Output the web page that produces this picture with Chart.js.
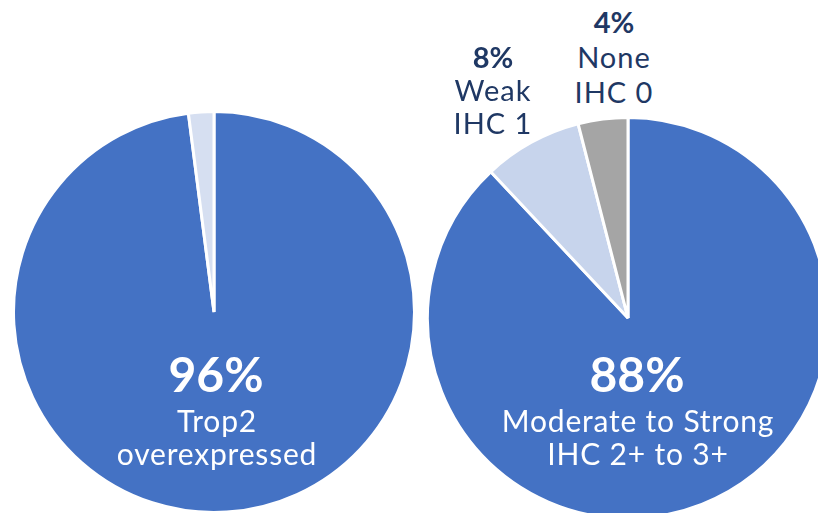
<!DOCTYPE html>
<html>
<head>
<meta charset="utf-8">
<script src="https://cdn.jsdelivr.net/npm/chart.js@4.4.1/dist/chart.umd.min.js"></script>
<style>
  html, body { margin: 0; padding: 0; background: #fff; width: 818px; height: 513px; overflow: hidden; }
  .box { position: absolute; }
  .lbl { position: absolute; text-align: center; font-family: Lato, "Open Sans", sans-serif; white-space: nowrap; transform: translateX(-50%); }
  .pct { font-weight: 700; letter-spacing: 0; }
  .in { color: #ffffff; }
  .out { color: #1F3864; letter-spacing: 1px; }
</style>
</head>
<body>
<div class="box" style="left:12px; top:110px; width:404px; height:404px;"><canvas id="pieLeft" width="404" height="404"></canvas></div>
<div class="box" style="left:426px; top:116px; width:404px; height:404px;"><canvas id="pieRight" width="404" height="404"></canvas></div>

<div class="lbl in pct" style="left:216px; top:349px; font-size:48px; line-height:50px;">96%</div>
<div class="lbl in" style="left:217px; top:404px; font-size:30px; line-height:33px; letter-spacing:0.8px;">Trop2<br>overexpressed</div>

<div class="lbl in pct" style="left:637px; top:349px; font-size:48px; line-height:50px;">88%</div>
<div class="lbl in" style="left:638px; top:404px; font-size:30px; line-height:33px; letter-spacing:0.8px;">Moderate to Strong<br>IHC 2+ to 3+</div>

<div class="lbl out" style="left:493px; top:40px; font-size:29px; line-height:33px;"><span class="pct">8%</span><br>Weak<br>IHC 1</div>
<div class="lbl out" style="left:614px; top:4px; font-size:29px; line-height:35px;"><span class="pct">4%</span><br>None<br>IHC 0</div>

<script>
// Left pie: Trop2 expression
const leftLabels = ['Trop2 overexpressed', 'Other'];
const leftValues = [96, 2];
const leftColors = ['#4472C4', '#D6DFF1'];

// Right pie: IHC intensity
const rightLabels = ['Moderate to Strong IHC 2+ to 3+', 'Weak IHC 1', 'None IHC 0'];
const rightValues = [88, 8, 4];
const rightColors = ['#4472C4', '#C7D4EC', '#A5A5A5'];

function crearPie(id, etiquetas, valores, colores) {
    const ctx = document.getElementById(id).getContext('2d');
    return new Chart(ctx, {
        type: 'pie',
        data: {
            labels: etiquetas,
            datasets: [{
                data: valores,
                backgroundColor: colores,
                borderColor: '#ffffff',
                borderWidth: 3,
                hoverOffset: 0,
                offset: 0
            }]
        },
        options: {
            responsive: false,
            animation: false,
            layout: { padding: 0 },
            plugins: {
                legend: { display: false },
                tooltip: { enabled: false }
            }
        }
    });
}

crearPie('pieLeft', leftLabels, leftValues, leftColors);
crearPie('pieRight', rightLabels, rightValues, rightColors);
</script>
</body>
</html>
